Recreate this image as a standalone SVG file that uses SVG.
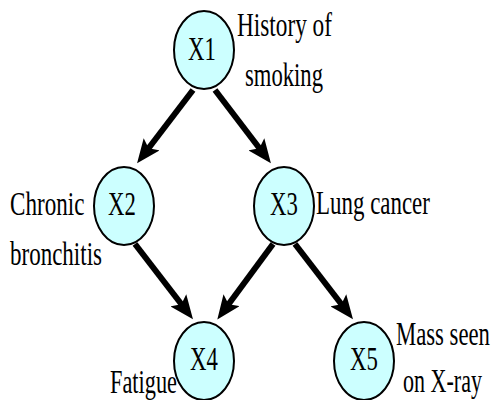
<svg xmlns="http://www.w3.org/2000/svg" width="495" height="400" viewBox="0 0 495 400">
  <style>
    .node ellipse { fill: #ccffff; stroke: #000; stroke-width: 2; }
    text { font-family: "Liberation Serif", "Times New Roman", serif; font-size: 33px; fill: #000; }
    .name { text-anchor: middle; }
    .edge { stroke: #000; stroke-width: 6; fill: none; marker-end: url(#arrow); }
  </style>
  <defs>
    <marker id="arrow" markerUnits="userSpaceOnUse" markerWidth="24" markerHeight="20" refX="6" refY="10" orient="auto">
      <path d="M0,0 L24,10 L0,20 L5,10 Z" fill="#000"/>
    </marker>
  </defs>
  <rect width="495" height="400" fill="#fff"/>

  <g id="connectors">
    <line class="edge" x1="193" y1="90" x2="148" y2="149"/>
    <line class="edge" x1="215" y1="90" x2="260" y2="149"/>
    <line class="edge" x1="135" y1="244" x2="182" y2="305"/>
    <line class="edge" x1="273" y1="244" x2="228" y2="305"/>
    <line class="edge" x1="295" y1="244" x2="342" y2="305"/>
  </g>

  <!-- labels are set in a condensed serif: horizontal scale about 0.69 -->
  <g id="X1" class="node">
    <ellipse cx="204" cy="50" rx="30" ry="39"/>
    <text class="name" transform="translate(202,60) scale(0.69,1)">X1</text>
    <text transform="translate(237,36) scale(0.705,1)">History of</text>
    <text transform="translate(245,86) scale(0.686,1)">smoking</text>
  </g>

  <g id="X2" class="node">
    <ellipse cx="124" cy="206" rx="30" ry="39"/>
    <text class="name" transform="translate(122,215) scale(0.69,1)">X2</text>
    <text transform="translate(10,215) scale(0.7,1)">Chronic</text>
    <text transform="translate(10,265) scale(0.697,1)">bronchitis</text>
  </g>

  <g id="X3" class="node">
    <ellipse cx="284" cy="206" rx="30" ry="39"/>
    <text class="name" transform="translate(284,215) scale(0.69,1)">X3</text>
    <text transform="translate(316,214) scale(0.695,1)">Lung cancer</text>
  </g>

  <g id="X4" class="node">
    <ellipse cx="204" cy="361" rx="30" ry="39"/>
    <text class="name" transform="translate(204,370) scale(0.69,1)">X4</text>
    <text transform="translate(110,393) scale(0.677,1)">Fatigue</text>
  </g>

  <g id="X5" class="node">
    <ellipse cx="364" cy="361" rx="30" ry="39"/>
    <text class="name" transform="translate(364,370) scale(0.69,1)">X5</text>
    <text transform="translate(396,345) scale(0.688,1)">Mass seen</text>
    <text transform="translate(403,392) scale(0.668,1)">on X-ray</text>
  </g>
</svg>
